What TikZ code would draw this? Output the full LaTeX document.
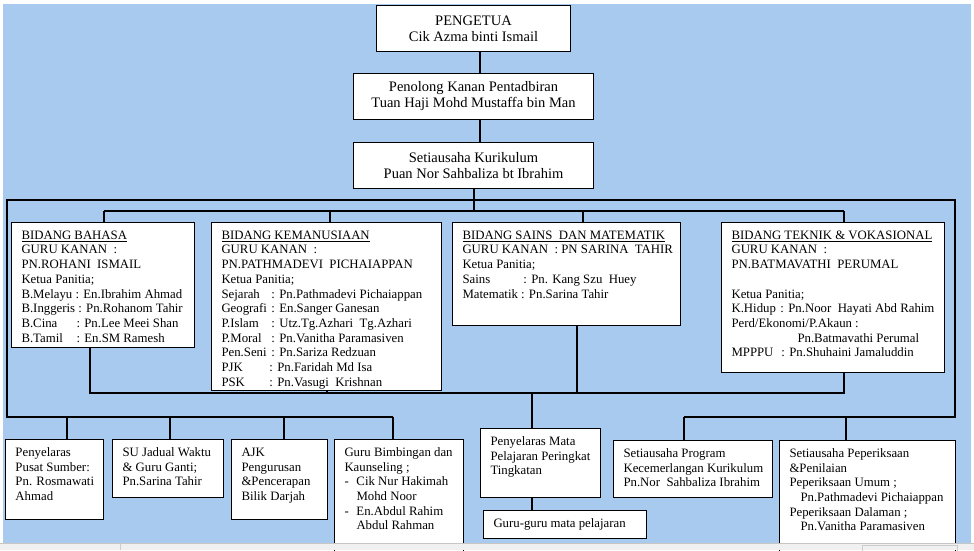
\documentclass[tikz,border=0pt]{standalone}
\usepackage{fontspec}
\setmainfont{Liberation Serif}
\usepackage{tikz}

\definecolor{bgblue}{RGB}{168,202,238}
\definecolor{bargray}{RGB}{240,240,240}

\newcommand{\headfont}{\fontsize{14.5}{16}\selectfont}
\newcommand{\bodyfont}{\fontsize{12.8}{14.7}\selectfont}
\newcommand{\orgtext}[3]{\begin{minipage}[t][#2][t]{#1}\vspace*{6.5pt}\begin{tabular}[t]{@{}l@{}}#3\end{tabular}\end{minipage}}

\tikzset{
  headbox/.style={draw, fill=white, line width=1pt, anchor=north west, align=center, inner sep=0pt, font=\headfont},
  orgbox/.style={draw, fill=white, line width=1pt, anchor=north west, inner xsep=10pt, inner ysep=0pt, font=\bodyfont},
  link/.style={line width=2pt},
}

\begin{document}
\begin{tikzpicture}[x=1pt,y=-1pt]
  \useasboundingbox (0,0) rectangle (974,550);
  \fill[white] (0,0) rectangle (974,550);
  \fill[bgblue] (3,4) rectangle (971,543);

  % pentadbiran
  \draw (376,5) node[headbox, minimum width=194pt, minimum height=46pt] (pengetua) {PENGETUA\\Cik Azma binti Ismail};
  \draw (353,73) node[headbox, minimum width=240pt, minimum height=46pt] (penolong) {Penolong Kanan Pentadbiran\\Tuan Haji Mohd Mustaffa bin Man};
  \draw (353,142) node[headbox, minimum width=240pt, minimum height=46pt] (setiausaha) {Setiausaha Kurikulum\\Puan Nor Sahbaliza bt Ibrahim};

  % bidang
  \draw (11,222) node[orgbox] (bahasa) {\orgtext{163pt}{125pt}{%
    \underline{BIDANG BAHASA}\\
    GURU KANAN~ :\\
    PN.ROHANI~ ISMAIL\\
    Ketua Panitia;\\
    B.Melayu : En.Ibrahim Ahmad\\
    B.Inggeris : Pn.Rohanom Tahir\\
    \makebox[55pt][l]{B.Cina}: Pn.Lee Meei Shan\\
    \makebox[55pt][l]{B.Tamil}: En.SM Ramesh}};
  \draw (211,222) node[orgbox] (kemanusiaan) {\orgtext{210pt}{168pt}{%
    \underline{BIDANG KEMANUSIAAN}\\
    GURU KANAN~ :\\
    PN.PATHMADEVI~ PICHAIAPPAN\\
    Ketua Panitia;\\
    \makebox[50pt][l]{Sejarah}: Pn.Pathmadevi Pichaiappan\\
    \makebox[50pt][l]{Geografi}: En.Sanger Ganesan\\
    \makebox[50pt][l]{P.Islam}: Utz.Tg.Azhari~ Tg.Azhari\\
    \makebox[50pt][l]{P.Moral}: Pn.Vanitha Paramasiven\\
    \makebox[50pt][l]{Pen.Seni}: Pn.Sariza Redzuan\\
    \makebox[48pt][l]{PJK}: Pn.Faridah Md Isa\\
    \makebox[48pt][l]{PSK}: Pn.Vasugi~ Krishnan}};
  \draw (452,222) node[orgbox] (sains) {\orgtext{208pt}{103pt}{%
    \underline{BIDANG SAINS~ DAN MATEMATIK}\\
    GURU KANAN~ : PN SARINA~ TAHIR\\
    Ketua Panitia;\\
    \makebox[61pt][l]{Sains}: Pn. Kang Szu~ Huey\\
    Matematik : Pn.Sarina Tahir}};
  \draw (721,222) node[orgbox] (teknik) {\orgtext{203pt}{150pt}{%
    \underline{BIDANG TEKNIK \& VOKASIONAL}\\
    GURU KANAN~ :\\
    PN.BATMAVATHI~ PERUMAL\\
    \\
    Ketua Panitia;\\
    \makebox[49pt][l]{K.Hidup}: Pn.Noor~ Hayati Abd Rahim\\
    Perd/Ekonomi/P.Akaun :\\
    \hspace*{66pt}Pn.Batmavathi Perumal\\
    \makebox[50pt][l]{MPPPU}: Pn.Shuhaini Jamaluddin}};

  % unit bawah
  \draw (5,439) node[orgbox] (pusat) {\orgtext{78pt}{80pt}{%
    Penyelaras\\Pusat Sumber:\\Pn. Rosmawati\\Ahmad}};
  \draw (112,439) node[orgbox] (jadual) {\orgtext{91pt}{58pt}{%
    SU Jadual Waktu\\\& Guru Ganti;\\Pn.Sarina Tahir}};
  \draw (231,439) node[orgbox] (ajk) {\orgtext{76pt}{80pt}{%
    AJK\\Pengurusan\\\&Pencerapan\\Bilik Darjah}};
  \draw (334,439) node[orgbox] (kaunseling) {\orgtext{109pt}{118pt}{%
    Guru Bimbingan dan\\Kaunseling ;\\
    \makebox[12pt][l]{-}Cik Nur Hakimah\\\hspace*{12pt}Mohd Noor\\
    \makebox[12pt][l]{-}En.Abdul Rahim\\\hspace*{12pt}Abdul Rahman}};
  \draw (480,428) node[orgbox] (matapel) {\orgtext{100pt}{69pt}{%
    Penyelaras Mata\\Pelajaran Peringkat\\Tingkatan}};
  \draw (483,510) node[orgbox] (gurump) {\orgtext{143pt}{28pt}{%
    Guru-guru mata pelajaran}};
  \draw (613,440) node[orgbox] (program) {\orgtext{139pt}{57pt}{%
    Setiausaha Program\\Kecemerlangan Kurikulum\\Pn.Nor~ Sahbaliza Ibrahim}};
  \draw (779,440) node[orgbox] (periksa) {\orgtext{156pt}{118pt}{%
    Setiausaha Peperiksaan\\\&Penilaian\\Peperiksaan Umum ;\\
    \hspace*{11pt}Pn.Pathmadevi Pichaiappan\\Peperiksaan Dalaman ;\\
    \hspace*{11pt}Pn.Vanitha Paramasiven}};

  % garis
  \coordinate (topL) at (7,200);
  \coordinate (topR) at (955,200);
  \coordinate (lowL) at (7,417);
  \coordinate (lowR) at (955,417);
  \coordinate (midL) at (104,211);
  \coordinate (midK) at (330,211);
  \coordinate (midS) at (583,211);
  \coordinate (midR) at (844,211);
  \coordinate (botL) at (90,393);
  \coordinate (botM) at (532,393);
  \coordinate (botS) at (577,393);
  \coordinate (botR) at (844,393);
  \coordinate (dropP) at (67,417);
  \coordinate (dropJ) at (170,417);
  \coordinate (dropA) at (284,417);
  \coordinate (dropK) at (393,417);
  \coordinate (dropG) at (684,417);
  \coordinate (dropE) at (846,417);

  \path[link] ([xshift=6pt]pengetua.south) edge ([xshift=6pt]penolong.north);
  \path[link] ([xshift=6pt]penolong.south) edge ([xshift=6pt]setiausaha.north);
  \path[link] (setiausaha.south) edge (setiausaha.south |- midL);
  \draw[link] (dropK) -- (lowL) -- (topL) -- (topR) -- (lowR) -- (dropG);
  \draw[link] (midL) -- (midR);
  \path[link] (midL) edge (midL |- bahasa.north);
  \path[link] (midK) edge (midK |- kemanusiaan.north);
  \path[link] (midS) edge (midS |- sains.north);
  \path[link] (midR) edge (midR |- teknik.north);

  \draw[link] (bahasa.south -| botL) -- (botL) -- (botR) -- (teknik.south -| botR);
  \path[link] (kemanusiaan.south) edge (kemanusiaan.south |- botL);
  \path[link] (sains.south -| botS) edge (botS);
  \path[link] (botM) edge (botM |- matapel.north);
  \path[link] (matapel.south -| botM) edge (gurump.north -| botM);

  \path[link] (dropP) edge (dropP |- pusat.north);
  \path[link] (dropJ) edge (dropJ |- jadual.north);
  \path[link] (dropA) edge (dropA |- ajk.north);
  \path[link] (dropK) edge (dropK |- kaunseling.north);
  \path[link] (dropG) edge (dropG |- program.north);
  \path[link] (dropE) edge (dropE |- periksa.north);

  % bar bawah
  \fill[bargray] (0,543) rectangle (974,550);
  \draw[gray!45] (0,543.5) -- (974,543.5);
  \draw[gray!40] (120,544) -- (120,550);
  \draw[gray!40] (862,545.5) rectangle (957,551);
\end{tikzpicture}
\end{document}
